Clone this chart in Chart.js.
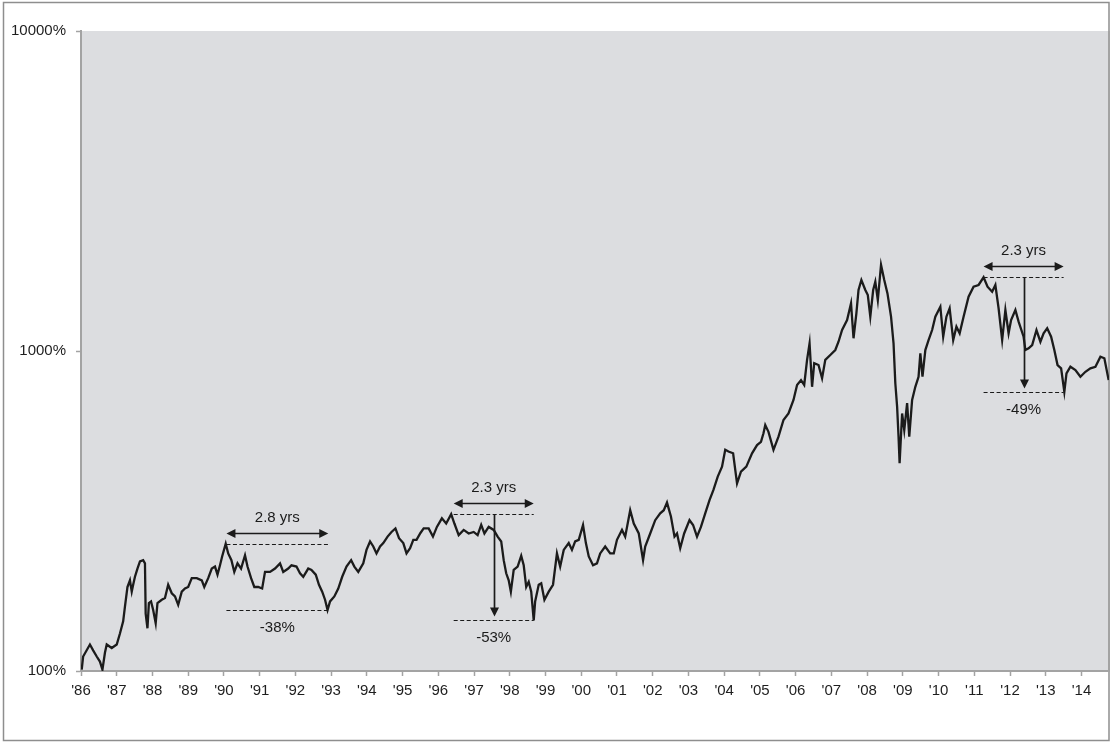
<!DOCTYPE html>
<html>
<head>
<meta charset="utf-8">
<script src="https://cdn.jsdelivr.net/npm/chart.js@4.4.1/dist/chart.umd.min.js"></script>
<style>
  html, body { margin: 0; padding: 0; background: #fff; }
  canvas { display: block; }
</style>
</head>
<body>
<canvas id="chart" width="1112" height="742"></canvas>
<script>
// Cumulative growth of the index, percent of the starting level (log scale)
const years = [
  1986.02, 1986.06, 1986.25, 1986.34, 1986.44, 1986.53, 1986.60, 1986.67, 1986.72, 1986.86,
  1987.00, 1987.09, 1987.18, 1987.23, 1987.30, 1987.37, 1987.42, 1987.46, 1987.51, 1987.58,
  1987.65, 1987.74, 1987.79, 1987.81, 1987.86, 1987.90, 1987.96, 1988.02, 1988.09, 1988.14,
  1988.26, 1988.35, 1988.44, 1988.54, 1988.63, 1988.72, 1988.82, 1988.91, 1989.00, 1989.10,
  1989.24, 1989.38, 1989.45, 1989.56, 1989.66, 1989.75, 1989.82, 1989.89, 1989.95, 1990.05,
  1990.12, 1990.21, 1990.29, 1990.38, 1990.48, 1990.59, 1990.66, 1990.76, 1990.85, 1990.96,
  1991.07, 1991.15, 1991.29, 1991.43, 1991.57, 1991.66, 1991.80, 1991.89, 1992.03, 1992.13,
  1992.22, 1992.36, 1992.45, 1992.57, 1992.66, 1992.75, 1992.83, 1992.90, 1992.97, 1993.09,
  1993.20, 1993.31, 1993.43, 1993.56, 1993.65, 1993.76, 1993.90, 1993.99, 1994.09, 1994.18,
  1994.27, 1994.37, 1994.46, 1994.58, 1994.69, 1994.80, 1994.90, 1995.02, 1995.11, 1995.21,
  1995.30, 1995.39, 1995.50, 1995.59, 1995.73, 1995.85, 1995.96, 1996.10, 1996.22, 1996.36,
  1996.45, 1996.57, 1996.71, 1996.85, 1996.99, 1997.10, 1997.20, 1997.29, 1997.41, 1997.55,
  1997.66, 1997.76, 1997.83, 1997.90, 1997.97, 1998.03, 1998.11, 1998.22, 1998.32, 1998.39,
  1998.46, 1998.53, 1998.60, 1998.67, 1998.71, 1998.81, 1998.88, 1998.97, 1999.09, 1999.21,
  1999.32, 1999.41, 1999.51, 1999.65, 1999.74, 1999.83, 1999.93, 2000.05, 2000.13, 2000.21,
  2000.33, 2000.44, 2000.53, 2000.67, 2000.81, 2000.91, 2001.00, 2001.14, 2001.23, 2001.37,
  2001.47, 2001.61, 2001.73, 2001.79, 2001.93, 2002.07, 2002.21, 2002.31, 2002.40, 2002.51,
  2002.61, 2002.68, 2002.77, 2002.88, 2003.03, 2003.13, 2003.24, 2003.35, 2003.47, 2003.59,
  2003.70, 2003.82, 2003.94, 2004.03, 2004.12, 2004.25, 2004.36, 2004.47, 2004.62, 2004.78,
  2004.92, 2005.03, 2005.10, 2005.15, 2005.24, 2005.38, 2005.52, 2005.66, 2005.80, 2005.94,
  2006.04, 2006.15, 2006.24, 2006.32, 2006.39, 2006.46, 2006.52, 2006.64, 2006.74, 2006.83,
  2006.97, 2007.11, 2007.20, 2007.30, 2007.44, 2007.55, 2007.62, 2007.70, 2007.76, 2007.84,
  2007.95, 2008.02, 2008.09, 2008.17, 2008.23, 2008.30, 2008.39, 2008.48, 2008.57, 2008.67,
  2008.74, 2008.79, 2008.84, 2008.88, 2008.91, 2008.98, 2009.04, 2009.12, 2009.18, 2009.26,
  2009.35, 2009.44, 2009.49, 2009.55, 2009.63, 2009.72, 2009.82, 2009.91, 2010.05, 2010.13,
  2010.22, 2010.31, 2010.41, 2010.50, 2010.59, 2010.70, 2010.84, 2010.98, 2011.12, 2011.26,
  2011.37, 2011.50, 2011.59, 2011.68, 2011.78, 2011.87, 2011.96, 2012.03, 2012.15, 2012.24,
  2012.38, 2012.43, 2012.52, 2012.62, 2012.74, 2012.85, 2012.94, 2013.04, 2013.15, 2013.24,
  2013.33, 2013.43, 2013.52, 2013.58, 2013.69, 2013.83, 2013.97, 2014.11, 2014.25, 2014.39,
  2014.53, 2014.64, 2014.76
];
const values = [
  101, 111, 121, 116, 111, 107, 101, 114, 121, 118,
  121, 131, 143, 159, 183, 192, 177, 186, 197, 209,
  220, 222, 217, 151, 136, 163, 165, 155, 141, 163,
  167, 169, 186, 175, 171, 161, 177, 181, 183, 195,
  195, 192, 183, 195, 209, 212, 200, 214, 228, 250,
  233, 222, 204, 217, 209, 230, 212, 195, 183, 183,
  181, 204, 204, 209, 217, 204, 209, 214, 212, 202,
  197, 209, 207, 200, 186, 177, 167, 155, 165, 171,
  181, 197, 212, 222, 212, 204, 217, 239, 254, 245,
  233, 245, 251, 263, 272, 279, 260, 251, 233, 242,
  257, 257, 270, 279, 279, 263, 282, 300, 289, 309,
  289, 266, 276, 269, 272, 266, 286, 269, 282, 276,
  263, 254, 222, 202, 192, 177, 207, 212, 229, 214,
  183, 190, 177, 144, 165, 186, 188, 167, 177, 186,
  233, 212, 239, 251, 239, 254, 257, 286, 251, 228,
  214, 217, 233, 245, 233, 233, 257, 276, 263, 318,
  289, 269, 222, 245, 269, 296, 311, 318, 336, 304,
  263, 269, 242, 269, 296, 286, 263, 282, 311, 342,
  368, 405, 435, 491, 485, 479, 386, 420, 435, 479,
  508, 520, 553, 587, 559, 491, 540, 609, 638, 703,
  783, 811, 783, 938, 1057, 773, 916, 904, 822, 938,
  972, 1007, 1069, 1163, 1250, 1409, 1096, 1312, 1551, 1667,
  1551, 1496, 1280, 1551, 1647, 1443, 1857, 1667, 1514, 1280,
  1057, 793, 670, 540, 446, 638, 566, 687, 540, 703,
  773, 831, 984, 831, 1007, 1082, 1163, 1280, 1375, 1108,
  1280, 1360, 1082, 1191, 1136, 1280, 1478, 1588, 1608, 1700,
  1588, 1531, 1608, 1360, 1082, 1343, 1136, 1250, 1343, 1235,
  1108, 1007, 1019, 1044, 1163, 1069, 1136, 1177, 1108, 1007,
  904, 883, 745, 851, 893, 872, 831, 861, 883, 893,
  960, 949, 811
];

// Axis ticks
const yearTicks = [1986, 1987, 1988, 1989, 1990, 1991, 1992, 1993, 1994, 1995, 1996, 1997, 1998, 1999,
  2000, 2001, 2002, 2003, 2004, 2005, 2006, 2007, 2008, 2009, 2010, 2011, 2012, 2013, 2014];
const valueTicks = [100, 1000, 10000];

// Drawdown episodes: peak-to-trough span and decline
const ddStart = [1990.07, 1996.43, 2011.26];
const ddEnd = [1992.92, 1998.67, 2013.50];
const ddPeak = [250, 309, 1700];
const ddTrough = [155, 144, 745];
const ddDropAt = [null, 1997.55, 2012.38];
const ddSpanLabel = ['2.8 yrs', '2.3 yrs', '2.3 yrs'];
const ddChangeLabel = ['-38%', '-53%', '-49%'];

const FONT = '"Liberation Sans", Arial, Helvetica, sans-serif';
const INK = '#1b1b1b';
const AXIS_GREY = '#a3a3a3';

const points = years.map((x, i) => ({ x, y: values[i] }));

const frame = {
  id: 'frame',
  beforeDraw(chart) {
    const { ctx, chartArea: a, width, height } = chart;
    ctx.save();
    ctx.fillStyle = '#ffffff';
    ctx.fillRect(0, 0, width, height);
    ctx.strokeStyle = '#8e8e8e';
    ctx.lineWidth = 1.5;
    ctx.strokeRect(3.5, 2.5, width - 6.5, height - 4);
    ctx.fillStyle = '#dcdde0';
    ctx.fillRect(a.left, a.top, a.right - a.left, a.bottom - a.top);
    ctx.strokeStyle = AXIS_GREY;
    ctx.lineWidth = 2;
    ctx.beginPath();
    ctx.moveTo(a.right, a.top);
    ctx.lineTo(a.right, a.bottom);
    ctx.stroke();
    ctx.restore();
  }
};

function arrowHead(ctx, x, y, dx, dy) {
  // filled triangle pointing along (dx, dy)
  const len = 9, half = 4.5;
  const px = -dy, py = dx;
  ctx.beginPath();
  ctx.moveTo(x, y);
  ctx.lineTo(x - dx * len + px * half, y - dy * len + py * half);
  ctx.lineTo(x - dx * len - px * half, y - dy * len - py * half);
  ctx.closePath();
  ctx.fill();
}

const drawdowns = {
  id: 'drawdowns',
  afterDatasetsDraw(chart) {
    const { ctx } = chart;
    const xs = chart.scales.x, ys = chart.scales.y;
    ctx.save();
    ctx.strokeStyle = INK;
    ctx.fillStyle = INK;
    ctx.font = '15px ' + FONT;
    ctx.textAlign = 'center';
    ctx.textBaseline = 'middle';
    ddStart.forEach((s, i) => {
      const x0 = xs.getPixelForValue(s);
      const x1 = xs.getPixelForValue(ddEnd[i]);
      const yp = Math.round(ys.getPixelForValue(ddPeak[i])) + 0.5;
      const yt = Math.round(ys.getPixelForValue(ddTrough[i])) + 0.5;
      const xm = (x0 + x1) / 2;

      // dashed reference levels
      ctx.lineWidth = 1.2;
      ctx.setLineDash([4, 2.5]);
      ctx.beginPath();
      ctx.moveTo(x0, yp); ctx.lineTo(x1, yp);
      ctx.moveTo(x0, yt); ctx.lineTo(x1, yt);
      ctx.stroke();
      ctx.setLineDash([]);

      // duration arrow
      const ya = yp - 11;
      ctx.lineWidth = 1.7;
      ctx.beginPath();
      ctx.moveTo(x0 + 5, ya); ctx.lineTo(x1 - 5, ya);
      ctx.stroke();
      arrowHead(ctx, x0, ya, -1, 0);
      arrowHead(ctx, x1, ya, 1, 0);
      ctx.fillText(ddSpanLabel[i], xm, ya - 16);

      // decline arrow
      if (ddDropAt[i] !== null) {
        const xd = Math.round(xs.getPixelForValue(ddDropAt[i])) + 0.5;
        const tip = yt - 4;
        ctx.beginPath();
        ctx.moveTo(xd, yp); ctx.lineTo(xd, tip - 5);
        ctx.stroke();
        arrowHead(ctx, xd, tip, 0, 1);
      }
      ctx.fillText(ddChangeLabel[i], xm, yt + 17.5);
    });
    ctx.restore();
  }
};

new Chart(document.getElementById('chart'), {
  type: 'line',
  data: {
    datasets: [{
      data: points,
      borderColor: INK,
      borderWidth: 2.3,
      pointRadius: 0,
      tension: 0,
      fill: false
    }]
  },
  options: {
    responsive: false,
    animation: false,
    events: [],
    layout: { padding: { left: 0, right: 3, top: 31, bottom: 0 } },
    plugins: { legend: { display: false }, tooltip: { enabled: false } },
    scales: {
      x: {
        type: 'linear',
        min: 1986,
        max: 2014.77,
        afterBuildTicks: s => { s.ticks = yearTicks.map(v => ({ value: v })); },
        afterFit: s => { s.height = 71; },
        ticks: {
          autoSkip: false,
          maxRotation: 0,
          padding: 6,
          color: '#1e1e1e',
          font: { family: FONT, size: 15 },
          callback: v => "'" + String(v).slice(2)
        },
        grid: { drawOnChartArea: false, drawTicks: true, tickLength: 5, tickColor: AXIS_GREY, tickWidth: 1.5 },
        border: { display: true, color: AXIS_GREY, width: 2 }
      },
      y: {
        type: 'logarithmic',
        min: 100,
        max: 10000,
        afterBuildTicks: s => { s.ticks = valueTicks.map(v => ({ value: v })); },
        afterFit: s => { s.width = 81; },
        ticks: {
          autoSkip: false,
          padding: 10,
          color: '#1e1e1e',
          font: { family: FONT, size: 15 },
          callback: v => v + '%'
        },
        grid: { drawOnChartArea: false, drawTicks: true, tickLength: 5, tickColor: AXIS_GREY, tickWidth: 1.5 },
        border: { display: true, color: AXIS_GREY, width: 2 }
      }
    }
  },
  plugins: [frame, drawdowns]
});
</script>
</body>
</html>
